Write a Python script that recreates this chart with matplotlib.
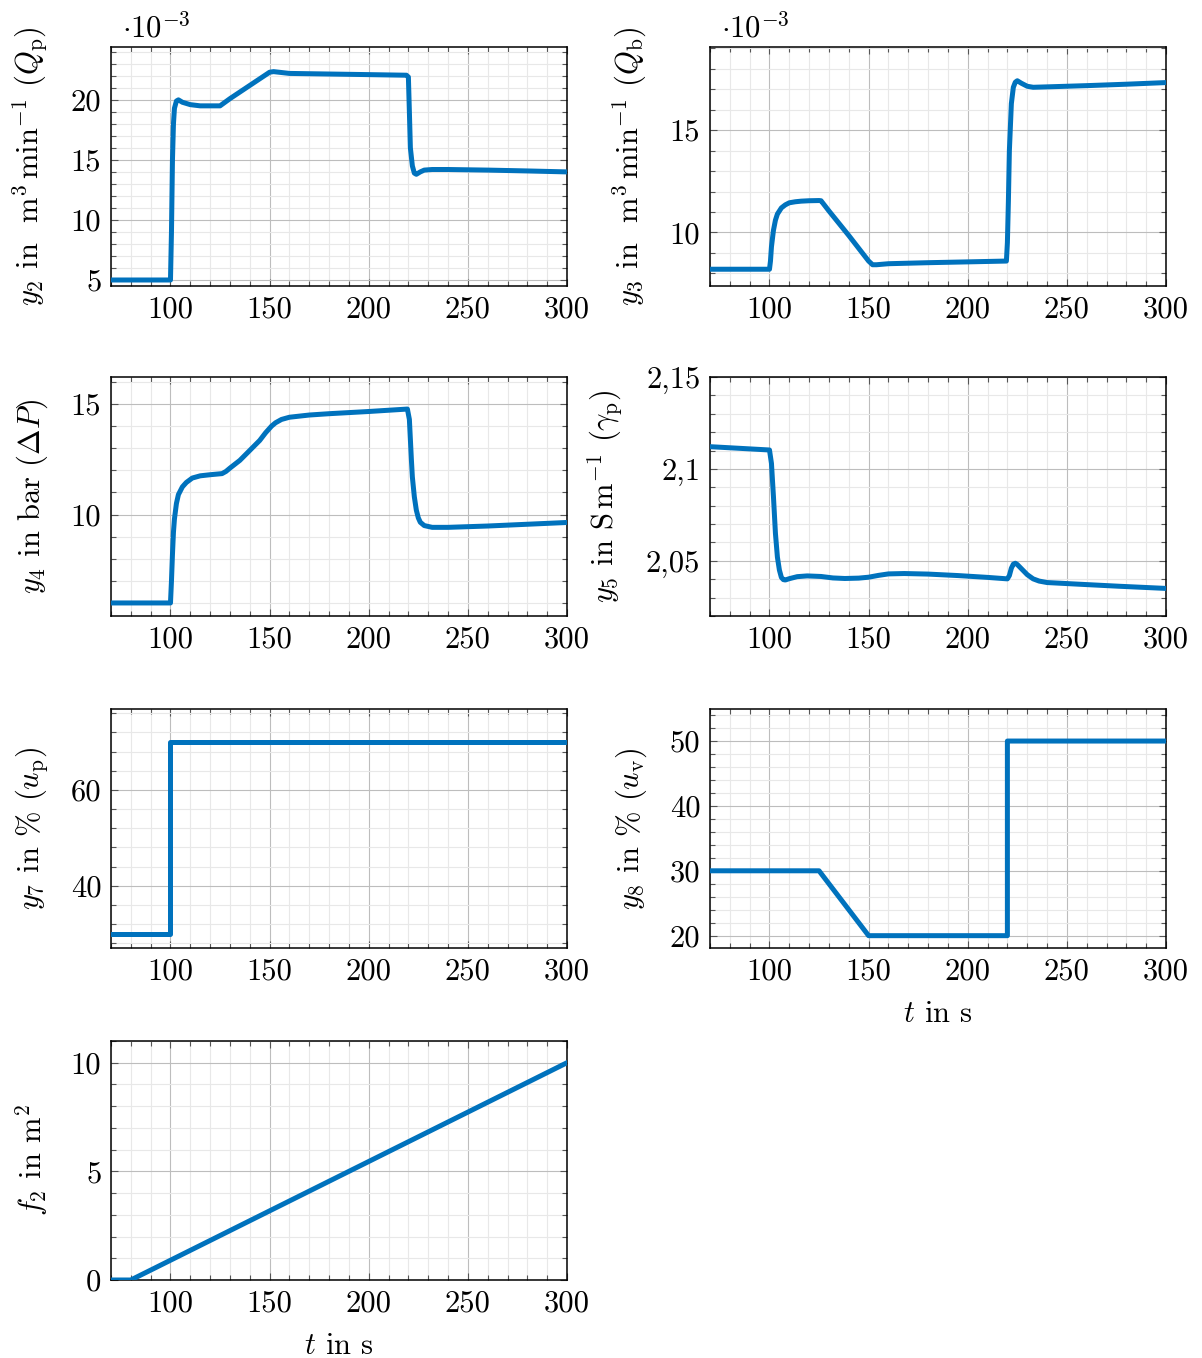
import numpy as np
import matplotlib.pyplot as plt
from matplotlib.ticker import MultipleLocator, FuncFormatter

plt.rcParams['font.family'] = 'cmr10'
plt.rcParams['mathtext.fontset'] = 'cm'
plt.rcParams['axes.formatter.use_mathtext'] = True
plt.rcParams['axes.unicode_minus'] = False

# ---- data ----
# y2 : Q_p in 1e-3 m^3/min
t_y2 = [70, 100, 100.5, 101, 101.5, 102, 103, 104, 106, 110, 115, 120, 125,
        130, 140, 150, 152, 160, 180, 200, 219, 220, 220.5, 221, 222, 223,
        224, 226, 228, 232, 240, 260, 280, 300]
v_y2 = [5.0, 5.0, 9.0, 15.0, 18.0, 19.3, 19.9, 20.0, 19.8, 19.6, 19.5, 19.5,
        19.5, 20.1, 21.2, 22.3, 22.35, 22.2, 22.15, 22.1, 22.05, 21.9, 19.0,
        16.0, 14.5, 13.9, 13.8, 14.0, 14.15, 14.2, 14.2, 14.15, 14.08, 14.0]

# y3 : Q_b in 1e-3 m^3/min
t_y3 = [70, 100, 100.5, 101, 102, 103, 104, 106, 108, 110, 113, 116, 120, 125,
        126, 130, 140, 150, 152, 154, 160, 180, 200, 219.5, 220, 220.5, 221,
        222, 223, 224, 225, 227, 230, 233, 240, 260, 280, 300]
v_y3 = [8.2, 8.2, 8.6, 9.3, 10.1, 10.6, 10.9, 11.2, 11.35, 11.45, 11.5, 11.53,
        11.55, 11.56, 11.55, 11.05, 9.85, 8.6, 8.42, 8.42, 8.47, 8.52, 8.56,
        8.6, 9.5, 11.5, 14.0, 16.3, 17.1, 17.35, 17.42, 17.3, 17.15, 17.1,
        17.12, 17.18, 17.25, 17.33]

# y4 : Delta P in bar
t_y4 = [70, 100, 100.5, 101, 101.5, 102, 103, 104, 106, 108, 111, 115, 120,
        126, 128, 130, 135, 140, 145, 148, 151, 153, 156, 160, 170, 180, 200,
        219.5, 220.5, 221, 221.5, 222, 223, 224, 225, 226, 228, 232, 240, 260,
        280, 300]
v_y4 = [6.0, 6.0, 7.0, 8.2, 9.2, 9.8, 10.5, 10.9, 11.25, 11.45, 11.65, 11.75,
        11.8, 11.85, 11.95, 12.1, 12.45, 12.9, 13.35, 13.7, 14.0, 14.15, 14.3,
        14.4, 14.5, 14.56, 14.66, 14.77, 14.3, 13.4, 12.5, 11.7, 10.8, 10.2,
        9.85, 9.65, 9.5, 9.42, 9.42, 9.48, 9.56, 9.64]

# y5 : gamma_p in S/m
t_y5 = [70, 100, 101, 102, 103, 104, 105, 106, 107, 108, 110, 114, 119, 126,
        132, 138, 145, 150, 155, 160, 168, 180, 195, 210, 220, 221, 222, 223,
        224, 225, 227, 230, 233, 236, 240, 256, 276, 300]
v_y5 = [2.1121, 2.1103, 2.103, 2.085, 2.065, 2.052, 2.045, 2.041, 2.0398,
        2.0396, 2.0403, 2.0414, 2.0418, 2.0415, 2.0407, 2.0404, 2.0406, 2.0411,
        2.0421, 2.0429, 2.0431, 2.0428, 2.0420, 2.0410, 2.0402, 2.0420, 2.0460,
        2.0482, 2.0487, 2.0480, 2.0458, 2.0425, 2.0402, 2.0390, 2.0382, 2.0373,
        2.0362, 2.0350]

# y7 : u_p in %
t_y7 = [70, 100, 100, 300]
v_y7 = [30, 30, 70, 70]

# y8 : u_v in %
t_y8 = [70, 125, 150, 220, 220, 300]
v_y8 = [30, 30, 20, 20, 50, 50]

# f2 in m^2
t_f2 = [70, 80, 300]
v_f2 = [0, 0, 10]

blue = '#0072bd'

panels = [
    # t, v, position, ylim, major, ylabel, xlabel, scale text, comma decimals
    (t_y2, v_y2, [111, 47], (4.5, 24.4), 5,
     r'$y_2$ in  $\mathrm{m}^3\,\mathrm{min}^{-1}$ $(Q_\mathrm{p})$', None, True, False),
    (t_y3, v_y3, [710, 47], (7.38, 19.07), 5,
     r'$y_3$ in  $\mathrm{m}^3\,\mathrm{min}^{-1}$ $(Q_\mathrm{b})$', None, True, False),
    (t_y4, v_y4, [111, 377], (5.41, 16.22), 5,
     r'$y_4$ in bar $(\Delta P)$', None, False, False),
    (t_y5, v_y5, [710, 377], (2.02, 2.15), 0.05,
     r'$y_5$ in $\mathrm{S}\,\mathrm{m}^{-1}$ $(\gamma_\mathrm{p})$', None, False, True),
    (t_y7, v_y7, [111, 709], (27.0, 76.9), 20,
     r'$y_7$ in $\%$ $(u_\mathrm{p})$', None, False, False),
    (t_y8, v_y8, [710, 709], (18.1, 54.94), 10,
     r'$y_8$ in $\%$ $(u_\mathrm{v})$', r'$t$ in s', False, False),
    (t_f2, v_f2, [111, 1041], (0, 11.0), 5,
     r'$f_2$ in $\mathrm{m}^2$', r'$t$ in s', False, False),
]

W, H = 1202, 1358
fig = plt.figure(figsize=(W / 100, H / 100), dpi=100)
fs = 22

for t, v, (px, py), ylim, major, ylab, xlab, scaled, comma in panels:
    ax = fig.add_axes([px / W, 1 - (py + 239) / H, 456 / W, 239 / H])
    ax.plot(t, v, color=blue, lw=3.6, solid_joinstyle='round', zorder=3)
    ax.set_xlim(70, 300)
    ax.set_ylim(*ylim)
    ax.xaxis.set_major_locator(MultipleLocator(50))
    ax.xaxis.set_minor_locator(MultipleLocator(10))
    ax.yaxis.set_major_locator(MultipleLocator(major))
    ax.yaxis.set_minor_locator(MultipleLocator(major / 5))
    ax.grid(which='major', color='#bdbdbd', lw=0.8)
    ax.grid(which='minor', color='#e8e8e8', lw=0.8)
    ax.set_axisbelow(True)
    ax.tick_params(which='both', direction='in', top=True, right=True,
                   labelsize=fs, color='#555555', width=0.8)
    ax.tick_params(which='major', length=5, pad=7)
    ax.tick_params(which='minor', length=3.5)
    for s in ax.spines.values():
        s.set_linewidth(1.1)
    if comma:
        ax.yaxis.set_major_formatter(FuncFormatter(lambda y, p: f'{y:g}'.replace('.', ',')))
    else:
        ax.yaxis.set_major_formatter(FuncFormatter(lambda y, p: f'{y:g}'))
    ax.xaxis.set_major_formatter(FuncFormatter(lambda x, p: f'{x:g}'))
    ax.set_ylabel(ylab, fontsize=fs, labelpad=15)
    if xlab:
        ax.set_xlabel(xlab, fontsize=fs, labelpad=11)
    if scaled:
        ax.text(0.024, 1.015, r'$\cdot 10^{-3}$', transform=ax.transAxes,
                fontsize=fs, ha='left', va='bottom')

fig.savefig('out.png', dpi=100)
